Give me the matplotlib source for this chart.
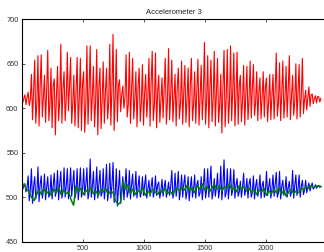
import numpy as np
import matplotlib
matplotlib.use("Agg")
import matplotlib.pyplot as plt

# per-step extremes (92 gait cycles over ~2450 samples)
red_peaks = [614, 615, 618,
             638, 654, 659, 660, 637, 665, 645, 633, 647, 672,
             641, 663, 657, 637, 657, 656, 641, 670, 670, 647,
             666, 645, 652, 645, 672, 683, 666, 632, 625, 660,
             663, 656, 641, 645, 649, 638, 656, 664, 662, 637,
             634, 656, 667,
             654, 638, 645, 653, 648, 645, 656, 641, 655, 648,
             674, 659, 654, 664, 656, 638, 665, 666, 670, 662,
             663, 637, 648, 647, 653, 649, 641, 634, 641, 634,
             638, 638, 662, 651, 653, 647, 659, 637, 650, 649,
             656, 620, 624, 616, 614, 613]
red_troughs = [606, 604, 603,
               587, 583, 580, 590, 584, 586, 578, 570, 586, 583,
               586, 597, 583, 580, 578, 575, 573, 582, 586, 579,
               570, 577, 583, 588, 581, 575, 585, 596, 600, 590,
               583, 588, 579, 585, 581, 590, 580, 586, 578, 584, 589, 582, 587,
               585, 580, 588, 582, 584, 579, 586, 583, 581, 587,
               582, 578, 585, 580, 584, 572, 579, 583, 586, 580,
               582, 585, 581, 587, 589, 592, 586, 588, 590, 585,
               587, 588, 591, 586, 589, 590, 587, 592, 588, 590,
               594, 598, 602, 605, 606, 607]
red_mids = [611, 612, 610,
            618, 606, 624, 612, 620, 604, 626, 614, 608, 622,
            610, 625, 606, 618, 612, 628, 604, 620, 614, 608,
            624, 610, 618, 606, 622, 612, 626, 615, 612, 604,
            620, 610, 624, 606, 616, 612, 628, 604, 618, 610,
            622, 608, 616,
            612, 624, 606, 618, 610, 626, 604, 620, 612, 616,
            608, 622, 610, 618, 604, 624, 612, 606, 620, 614,
            626, 608, 616, 610, 622, 606, 618, 612, 624, 608,
            614, 620, 606, 616, 610, 622, 612, 608, 618, 614,
            610, 612, 615, 611, 613, 611]

blue_peaks = [514, 515, 524, 532, 523, 534, 524, 526, 523, 525,
              527, 530, 529, 533, 532, 533, 530, 532, 533, 532,
              533, 543, 529, 534, 530, 532, 537, 538, 539, 532,
              530, 523, 532, 530, 526, 529, 524, 523, 525, 519,
              522, 524, 517, 520, 519, 517,
              530, 527, 529, 525, 525, 523, 523, 525, 519, 523,
              532, 532, 535, 521, 527, 535, 542, 532, 532, 531,
              521, 518, 527, 521, 521, 524, 520, 525, 518, 529,
              521, 525, 528, 529, 519, 523, 518, 530, 525, 525,
              519, 519, 516, 516, 514, 513]
blue_troughs = [509, 506, 496, 493, 498, 495, 499, 497, 500, 498,
                501, 497, 499, 500, 498, 501, 499, 497, 500, 502,
                498, 500, 497, 499, 501, 498, 496, 499, 494, 490,
                493, 497, 500, 498, 501, 499, 500, 502, 499, 501,
                500, 502, 499, 501, 500, 502,
                499, 501, 497, 500, 498, 496, 500, 499, 501, 497,
                499, 500, 498, 501, 499, 497, 500, 498, 502, 499,
                501, 500, 502, 499, 500, 498, 501, 499, 500, 502,
                499, 501, 500, 498, 502, 500, 501, 499, 502, 500,
                503, 505, 507, 509, 510, 511]
blue_mids = [512, 511, 508, 512, 505, 514, 507, 511, 504, 513,
             508, 515, 506, 512, 509, 516, 505, 511, 508, 514,
             506, 512, 509, 515, 505, 511, 507, 513, 504, 510,
             508, 512, 506, 514, 508, 511, 505, 513, 509, 512,
             506, 514, 508, 511, 507, 513,
             505, 512, 508, 515, 506, 511, 509, 514, 505, 512,
             508, 516, 506, 511, 509, 513, 505, 512, 508, 514,
             506, 511, 509, 515, 505, 512, 508, 513, 506, 511,
             509, 514, 505, 512, 508, 511, 506, 513, 509, 512,
             508, 511, 512, 511, 512, 512]

green = [512, 515, 509,
         506, 500, 496, 503,
         508, 503, 510, 504, 507, 502, 509, 505, 511, 503, 508, 504, 506,
         497, 491, 513,
         506, 510, 503, 508, 505, 511, 504, 507, 502, 509, 506, 510, 503, 507, 505,
         496, 492, 494,
         518, 509, 514,
         504, 509, 503, 508, 505, 510, 502, 507, 504, 509, 506, 503, 508, 505, 510,
         504, 507, 503, 508,
         510, 506, 512, 508, 514, 507, 511, 505, 513, 509, 515, 508, 512, 506, 511,
         514, 509, 513, 507, 512, 510, 515, 508, 511, 506, 513, 509, 512, 507, 510,
         505, 509, 503, 508, 506, 510, 502, 507, 504, 509, 505, 511, 503, 508, 501,
         506, 509, 504, 507, 505,
         510, 508, 512, 510, 513, 511, 512, 513, 512]

n_samples = 2450

red = np.ravel(np.column_stack([red_peaks, red_troughs, red_mids]))
blue = np.ravel(np.column_stack([blue_peaks, blue_troughs, blue_mids]))
x_steps = np.linspace(1, n_samples, len(red))
x_green = np.linspace(1, n_samples, len(green))

plt.rcParams['font.family'] = ['Liberation Sans', 'DejaVu Sans']

fig = plt.figure(figsize=(3.24, 2.52), dpi=100)
ax = fig.add_axes([21.5 / 324, 10.3 / 252, 305.5 / 324, 222.5 / 252])

ax.plot(x_steps, red, color=(1, 0, 0), lw=0.8)
ax.plot(x_steps, blue, color=(0, 0, 1), lw=0.8)
ax.plot(x_green, green, color=(0, 0.5, 0), lw=1.1)

ax.set_xlim(0, 2500)
ax.set_ylim(450, 700)
ax.set_xticks([500, 1000, 1500, 2000])
ax.set_yticks([450, 500, 550, 600, 650, 700])
ax.tick_params(direction='in', length=2.5, width=0.6, labelsize=5.3,
               colors='#333333', top=True, right=True, pad=2.2)
for sp in ax.spines.values():
    sp.set_linewidth(0.8)
ax.set_title("Accelerometer 3", fontsize=5.5, color='#222222', pad=4)

fig.savefig("out.png", dpi=100)
